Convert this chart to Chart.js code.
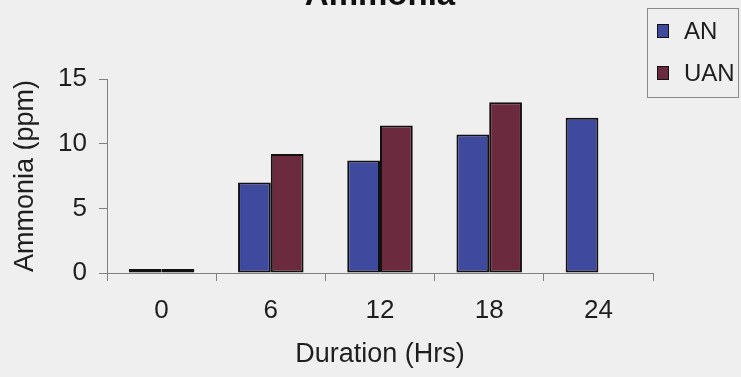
<!DOCTYPE html>
<html>
<head>
<meta charset="utf-8">
<script src="https://cdn.jsdelivr.net/npm/chart.js@4"></script>
<style>
  html, body { margin: 0; padding: 0; background: #efefef; overflow: hidden; }
  #wrap { position: absolute; left: 0; top: -34px; width: 741px; height: 411px; }
</style>
</head>
<body>
<div id="wrap"><canvas id="myChart"></canvas></div>
<script>
const durations = ['0', '6', '12', '18', '24'];
const anValues = [0.3, 7.0, 8.7, 10.7, 12.0];
const uanValues = [0.3, 9.2, 11.4, 13.2, null];
const yTicks = [0, 5, 10, 15];

const seriesNames = ['AN', 'UAN'];
const seriesColors = ['#3f4a9e', '#6b2a3d'];
const axisColor = '#808080';
const textColor = '#1e1e1e';
const fontFamily = '"Liberation Sans", Arial, sans-serif';

// framed legend in the top right corner
const boxLegend = {
  id: 'boxLegend',
  afterDraw(chart) {
    const ctx = chart.ctx;
    const off = 34;
    ctx.save();
    ctx.strokeStyle = '#8a8a8a';
    ctx.lineWidth = 1;
    ctx.strokeRect(647.5, 8.5 + off, 91, 89);
    ctx.font = '24px ' + fontFamily;
    ctx.textBaseline = 'middle';
    ctx.textAlign = 'left';
    const rows = [31, 73];
    chart.data.datasets.forEach(function (ds, i) {
      const y = rows[i] + off;
      ctx.fillStyle = ds.backgroundColor;
      ctx.fillRect(657, y - 7, 12, 14);
      ctx.strokeStyle = '#111';
      ctx.strokeRect(657.5, y - 6.5, 11, 13);
      ctx.fillStyle = textColor;
      ctx.fillText(ds.label, 684, y + 1);
    });
    ctx.restore();
  }
};

const ctx = document.getElementById('myChart');

new Chart(ctx, {
  type: 'bar',
  data: {
    labels: durations,
    datasets: [
      { label: seriesNames[0], data: anValues, backgroundColor: seriesColors[0] },
      { label: seriesNames[1], data: uanValues, backgroundColor: seriesColors[1] }
    ]
  },
  options: {
    responsive: true,
    maintainAspectRatio: false,
    animation: false,
    devicePixelRatio: 1,
    layout: { padding: { left: 0, right: 88, top: 0, bottom: 0 } },
    datasets: {
      bar: {
        borderColor: '#111',
        borderWidth: 2,
        borderSkipped: false,
        barPercentage: 1,
        categoryPercentage: 0.6
      }
    },
    plugins: {
      legend: { display: false },
      tooltip: { enabled: false },
      title: {
        display: true,
        fullSize: false,
        text: 'Ammonia',
        color: '#111',
        font: { family: fontFamily, size: 33, weight: 'bold' },
        padding: { top: 10, bottom: 63.4 }
      }
    },
    scales: {
      x: {
        afterFit: function (s) { s.height = 104; },
        grid: {
          offset: true,
          drawOnChartArea: false,
          drawTicks: true,
          tickLength: 8,
          color: axisColor
        },
        border: { color: axisColor, width: 1 },
        ticks: {
          color: textColor,
          padding: 14,
          font: { family: fontFamily, size: 26 }
        },
        title: {
          display: true,
          text: 'Duration (Hrs)',
          color: textColor,
          font: { family: fontFamily, size: 27 },
          padding: { top: 2, bottom: 6 }
        }
      },
      y: {
        min: 0,
        max: 15,
        afterFit: function (s) { s.width = 107; },
        afterBuildTicks: function (s) { s.ticks = yTicks.map(v => ({ value: v })); },
        grid: {
          drawOnChartArea: false,
          drawTicks: true,
          tickLength: 8,
          color: axisColor
        },
        border: { color: axisColor, width: 1 },
        ticks: {
          color: textColor,
          padding: 12,
          font: { family: fontFamily, size: 26 }
        },
        title: {
          display: true,
          text: 'Ammonia (ppm)',
          color: textColor,
          font: { family: fontFamily, size: 27 },
          padding: { top: 9, bottom: 2 }
        }
      }
    }
  },
  plugins: [boxLegend]
});
</script>
</body>
</html>
